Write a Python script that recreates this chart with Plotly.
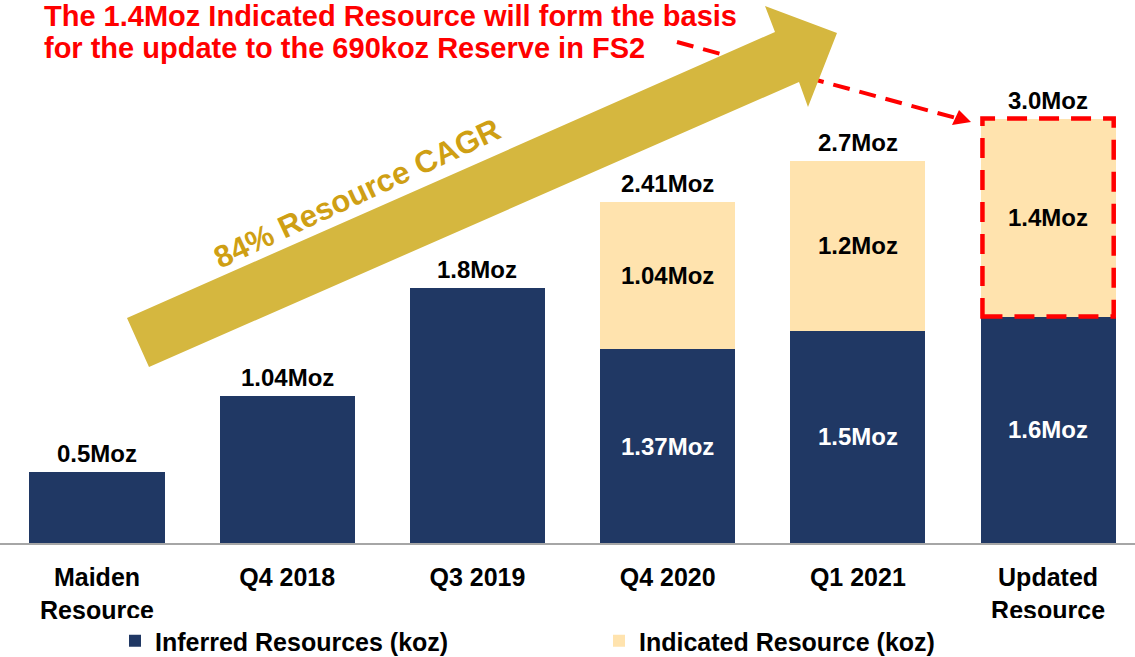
import plotly.graph_objects as go

# data (koz)
periodos = ["Maiden<br>Resource", "Q4 2018", "Q3 2019", "Q4 2020", "Q1 2021", "Updated<br>Resource"]
inferido = [500, 1040, 1800, 1370, 1500, 1600]
indicado = [0, 0, 0, 1040, 1200, 1400]
etiq_total = ["0.5Moz", "1.04Moz", "1.8Moz", "2.41Moz", "2.7Moz", "3.0Moz"]
etiq_inferido = ["", "", "", "1.37Moz", "1.5Moz", "1.6Moz"]
etiq_indicado = ["", "", "", "1.04Moz", "1.2Moz", "1.4Moz"]

W, H = 1135, 657
BASE = 543  # pixel row of the x axis
AZUL = "#203864"
CREMA = "#FFE3AE"
ORO = "#D5B73F"
ROJO = "#FF0000"
FUENTE = "Liberation Sans, Arial, sans-serif"


def px(x, y):
    # pixel position -> paper coords (plot area = full width, top to axis line)
    return x / W, (BASE - y) / BASE


xs = list(range(len(periodos)))
totales = [a + b for a, b in zip(inferido, indicado)]
ancho = 0.71

fig = go.Figure()
fig.add_trace(go.Bar(x=xs, y=inferido, name="Inferred Resources (koz)", marker_color=AZUL,
                     marker_line_width=0, width=ancho))
fig.add_trace(go.Bar(x=xs, y=indicado, name="Indicated Resource (koz)", marker_color=CREMA,
                     marker_line_width=0, width=ancho))

anotaciones = []
for i in xs:
    anotaciones.append(dict(x=i, y=totales[i], text="<b>%s</b>" % etiq_total[i], showarrow=False,
                            yanchor="bottom", yshift=3, font=dict(size=24, color="black", family=FUENTE)))
    if etiq_inferido[i]:
        anotaciones.append(dict(x=i, y=inferido[i] / 2, text="<b>%s</b>" % etiq_inferido[i], showarrow=False,
                                font=dict(size=24, color="white", family=FUENTE)))
    if etiq_indicado[i]:
        anotaciones.append(dict(x=i, y=inferido[i] + indicado[i] / 2, text="<b>%s</b>" % etiq_indicado[i],
                                showarrow=False, font=dict(size=24, color="black", family=FUENTE)))

# titulo rojo
for linea, yy in [("The 1.4Moz Indicated Resource will form the basis", 16),
                  ("for the update to the 690koz Reserve in FS2", 48)]:
    x0, y0 = px(42, yy)
    anotaciones.append(dict(xref="paper", yref="paper", x=x0, y=y0, xanchor="left", yanchor="middle",
                            text="<b>%s</b>" % linea, showarrow=False,
                            font=dict(size=29, color=ROJO, family=FUENTE)))

# texto sobre la flecha dorada
tx, ty = px(357, 193)
anotaciones.append(dict(xref="paper", yref="paper", x=tx, y=ty, xanchor="center", yanchor="middle",
                        text="<b>84% Resource CAGR</b>", showarrow=False, textangle=-25,
                        font=dict(size=31, color="#CF9F14", family=FUENTE)))

formas = []
# linea roja discontinua (debajo de la flecha dorada)
a, b = px(677, 42)
c, d = px(956, 118)
formas.append(dict(type="line", xref="paper", yref="paper", x0=a, y0=b, x1=c, y1=d,
                   line=dict(color=ROJO, width=4, dash="17px,10px"), layer="above"))
pts = [px(971, 122), px(952, 125), px(959, 110)]
formas.append(dict(type="path", xref="paper", yref="paper", layer="above", fillcolor=ROJO, line=dict(width=0),
                   path="M %f,%f L %f,%f L %f,%f Z" % (pts[0] + pts[1] + pts[2])))

# flecha dorada
flecha = [(127, 318), (775, 32), (765, 6), (837, 33), (808, 107), (799, 82), (149, 367)]
camino = "M " + " L ".join("%f,%f" % px(x, y) for x, y in flecha) + " Z"
formas.append(dict(type="path", xref="paper", yref="paper", path=camino, fillcolor=ORO,
                   line=dict(width=0), layer="above"))

# recuadro rojo sobre el recurso actualizado
formas.append(dict(type="rect", xref="x", yref="y", x0=5 - ancho / 2 + 0.01, x1=5 + ancho / 2 - 0.01,
                   y0=inferido[5], y1=totales[5], line=dict(color=ROJO, width=4.5, dash="20px,12px"),
                   layer="above"))

fig.update_layout(
    width=W, height=H, barmode="stack",
    plot_bgcolor="white", paper_bgcolor="white",
    margin=dict(l=0, r=0, t=0, b=H - BASE, autoexpand=False),
    font=dict(family=FUENTE, color="black"),
    annotations=anotaciones, shapes=formas,
    legend=dict(orientation="h", xref="container", yref="container", x=115 / W, y=(H - 641) / H,
                xanchor="left", yanchor="middle", traceorder="normal",
                entrywidth=439, entrywidthmode="pixels", font=dict(size=25, weight="bold")),
)
fig.update_xaxes(range=[-0.51, 5.457], tickvals=xs, ticktext=["<b>%s</b>" % p for p in periodos],
                 tickfont=dict(size=25, color="black"), showline=True, linecolor="#A6A6A6", linewidth=2,
                 ticks="", showgrid=False, zeroline=False, ticklabelstandoff=11, automargin=False)
fig.update_yaxes(range=[0, BASE / 0.1415], visible=False, showgrid=False, zeroline=False, automargin=False)

# la pagina por defecto deja 8px de margen en el body
fig.write_html("out.html", config={"displayModeBar": False},
               post_script="document.body.style.margin='0px';")
